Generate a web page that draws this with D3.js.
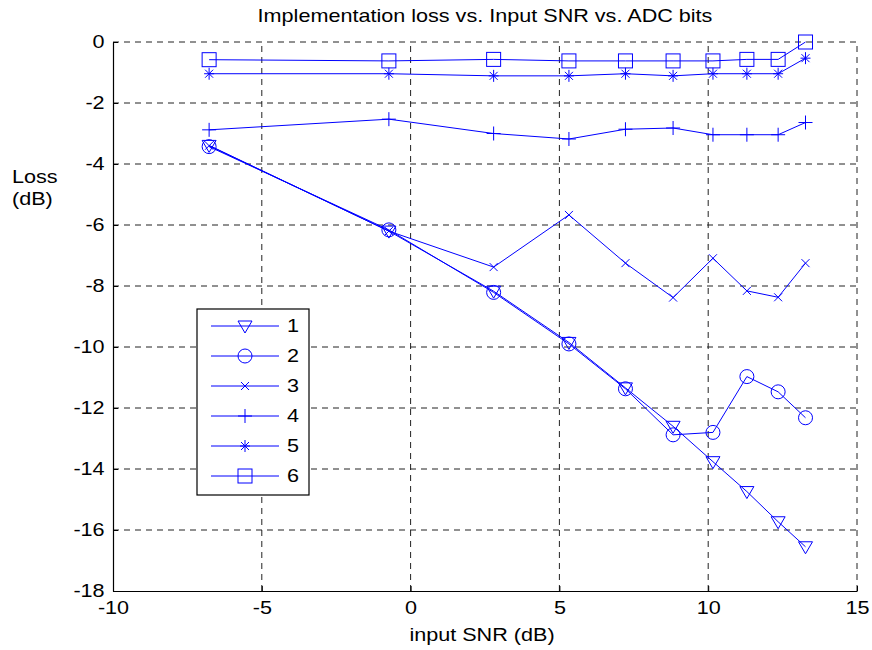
<!DOCTYPE html>
<html>
<head>
<meta charset="utf-8">
<script src="https://cdn.jsdelivr.net/npm/d3@7"></script>
<style>
  body { margin: 0; background: #fff; }
  svg { font-family: "Liberation Sans", Arial, sans-serif; }
</style>
</head>
<body>
<svg id="chart" width="872" height="650"></svg>
<script>
// input SNR (dB) at which every series was measured
const snr = [-6.77, -0.73, 2.79, 5.32, 7.22, 8.82, 10.16, 11.30, 12.35, 13.27];

// loss (dB), one array per ADC bit count
const loss1 = [-3.39, -6.2, -8.17, -9.85, -11.34, -12.6, -13.76, -14.74, -15.73, -16.55];
const loss2 = [-3.43, -6.16, -8.21, -9.9, -11.37, -12.88, -12.8, -10.97, -11.47, -12.32];
const loss3 = [-3.4, -6.2, -7.38, -5.67, -7.25, -8.38, -7.09, -8.16, -8.37, -7.25];
const loss4 = [-2.88, -2.53, -3.0, -3.18, -2.86, -2.82, -3.04, -3.04, -3.04, -2.64];
const loss5 = [-1.04, -1.04, -1.11, -1.11, -1.04, -1.11, -1.04, -1.04, -1.04, -0.53];
const loss6 = [-0.58, -0.62, -0.57, -0.62, -0.62, -0.62, -0.62, -0.57, -0.57, 0.0];

const seriesNames = ["1", "2", "3", "4", "5", "6"];
const markerKinds = ["triangle", "circle", "x", "plus", "star", "square"];
const xTicks = [-10, -5, 0, 5, 10, 15];
const yTicks = [0, -2, -4, -6, -8, -10, -12, -14, -16, -18];

const series = [loss1, loss2, loss3, loss4, loss5, loss6].map((vals, i) => ({
    name: seriesNames[i],
    kind: markerKinds[i],
    points: vals.map((v, j) => [snr[j], v])
}));

const svg = d3.select("#chart");
const margin = { left: 113, right: 15, top: 42, bottom: 59 };
const width = 872, height = 650;
const blue = "#0000ff";
const stretch = 1.2; // text in the original is drawn wider than normal

const x = d3.scaleLinear().domain([-10, 15]).range([margin.left, width - margin.right]);
const y = d3.scaleLinear().domain([-18, 0]).range([height - margin.bottom, margin.top]);

// writes a horizontally stretched label at (px, py)
function label(text, px, py, size, anchor) {
    return svg.append("text")
        .attr("transform", `translate(${px},${py}) scale(${stretch},1)`)
        .attr("text-anchor", anchor || "start")
        .attr("font-size", size + "px")
        .attr("fill", "#000")
        .text(text);
}

// dashed grid
const grid = svg.append("g")
    .attr("stroke", "#222")
    .attr("stroke-width", 1)
    .attr("stroke-dasharray", "6,5");

grid.selectAll(".gx")
    .data(xTicks.slice(1))
    .enter().append("line")
    .attr("x1", d => x(d)).attr("x2", d => x(d))
    .attr("y1", y(-18)).attr("y2", y(0));

grid.selectAll(".gy")
    .data(yTicks.slice(0, -1))
    .enter().append("line")
    .attr("x1", x(-10)).attr("x2", x(15))
    .attr("y1", d => y(d)).attr("y2", d => y(d));

// axes with inward ticks
const xAxis = svg.append("g")
    .attr("transform", `translate(0,${y(-18)})`)
    .call(d3.axisBottom(x).tickValues(xTicks).tickFormat(d => String(d))
        .tickSizeInner(-5).tickSizeOuter(0).tickPadding(10));

const yAxis = svg.append("g")
    .attr("transform", `translate(${x(-10)},0)`)
    .call(d3.axisLeft(y).tickValues(yTicks).tickFormat(d => String(d))
        .tickSizeInner(-5).tickSizeOuter(0).tickPadding(7));

[xAxis, yAxis].forEach(a => {
    a.select(".domain").attr("stroke", "#000").attr("stroke-width", 1.2);
    a.selectAll("line").attr("stroke", "#000");
    a.selectAll("text")
        .attr("font-size", "18px")
        .attr("fill", "#000")
        .attr("font-family", "'Liberation Sans', Arial, sans-serif");
});
xAxis.selectAll("text").attr("dy", "0.71em").attr("transform", `scale(${stretch},1)`);
yAxis.selectAll("text").attr("transform", `scale(${stretch},1)`);

// marker drawing
function drawMarker(g, kind, cx, cy) {
    if (kind === "triangle") {
        g.append("path")
            .attr("d", `M${cx - 7},${cy - 5}L${cx + 7},${cy - 5}L${cx},${cy + 7}Z`)
            .attr("fill", "none").attr("stroke", blue);
    } else if (kind === "circle") {
        g.append("circle").attr("cx", cx).attr("cy", cy).attr("r", 7)
            .attr("fill", "none").attr("stroke", blue);
    } else if (kind === "x") {
        g.append("path")
            .attr("d", `M${cx - 4},${cy - 4}L${cx + 4},${cy + 4}M${cx - 4},${cy + 4}L${cx + 4},${cy - 4}`)
            .attr("stroke", blue);
    } else if (kind === "plus") {
        g.append("path")
            .attr("d", `M${cx - 7},${cy}L${cx + 7},${cy}M${cx},${cy - 7}L${cx},${cy + 7}`)
            .attr("stroke", blue);
    } else if (kind === "star") {
        g.append("path")
            .attr("d", `M${cx - 5},${cy}L${cx + 5},${cy}M${cx},${cy - 6}L${cx},${cy + 6}` +
                `M${cx - 4},${cy - 4}L${cx + 4},${cy + 4}M${cx - 4},${cy + 4}L${cx + 4},${cy - 4}`)
            .attr("stroke", blue);
    } else if (kind === "square") {
        g.append("rect").attr("x", cx - 7).attr("y", cy - 7)
            .attr("width", 14).attr("height", 14)
            .attr("fill", "none").attr("stroke", blue);
    }
}

const line = d3.line().x(d => x(d[0])).y(d => y(d[1]));

series.forEach(s => {
    const g = svg.append("g");
    g.append("path")
        .datum(s.points)
        .attr("d", line)
        .attr("fill", "none")
        .attr("stroke", blue)
        .attr("stroke-width", 1);
    s.points.forEach(p => drawMarker(g, s.kind, x(p[0]), y(p[1])));
});

// legend
const legend = svg.append("g").attr("transform", "translate(197,309)");
legend.append("rect")
    .attr("width", 112).attr("height", 186)
    .attr("fill", "#fff").attr("stroke", "#000").attr("stroke-width", 1.2);

series.forEach((s, i) => {
    const ly = 17 + i * 30;
    legend.append("line")
        .attr("x1", 14).attr("x2", 82)
        .attr("y1", ly).attr("y2", ly)
        .attr("stroke", blue);
    drawMarker(legend, s.kind, 48, ly);
    legend.append("text")
        .attr("transform", `translate(90,${ly}) scale(${stretch},1)`)
        .attr("dy", "0.36em")
        .attr("font-size", "18px")
        .text(s.name);
});

// titles
label("Implementation loss vs. Input SNR vs. ADC bits", (x(-10) + x(15)) / 2, 22, 18, "middle");
label("input SNR (dB)", (x(-10) + x(15)) / 2 - 3, 641, 18, "middle");
label("Loss", 12, 183, 18);
label("(dB)", 12, 205, 18);
</script>
</body>
</html>
